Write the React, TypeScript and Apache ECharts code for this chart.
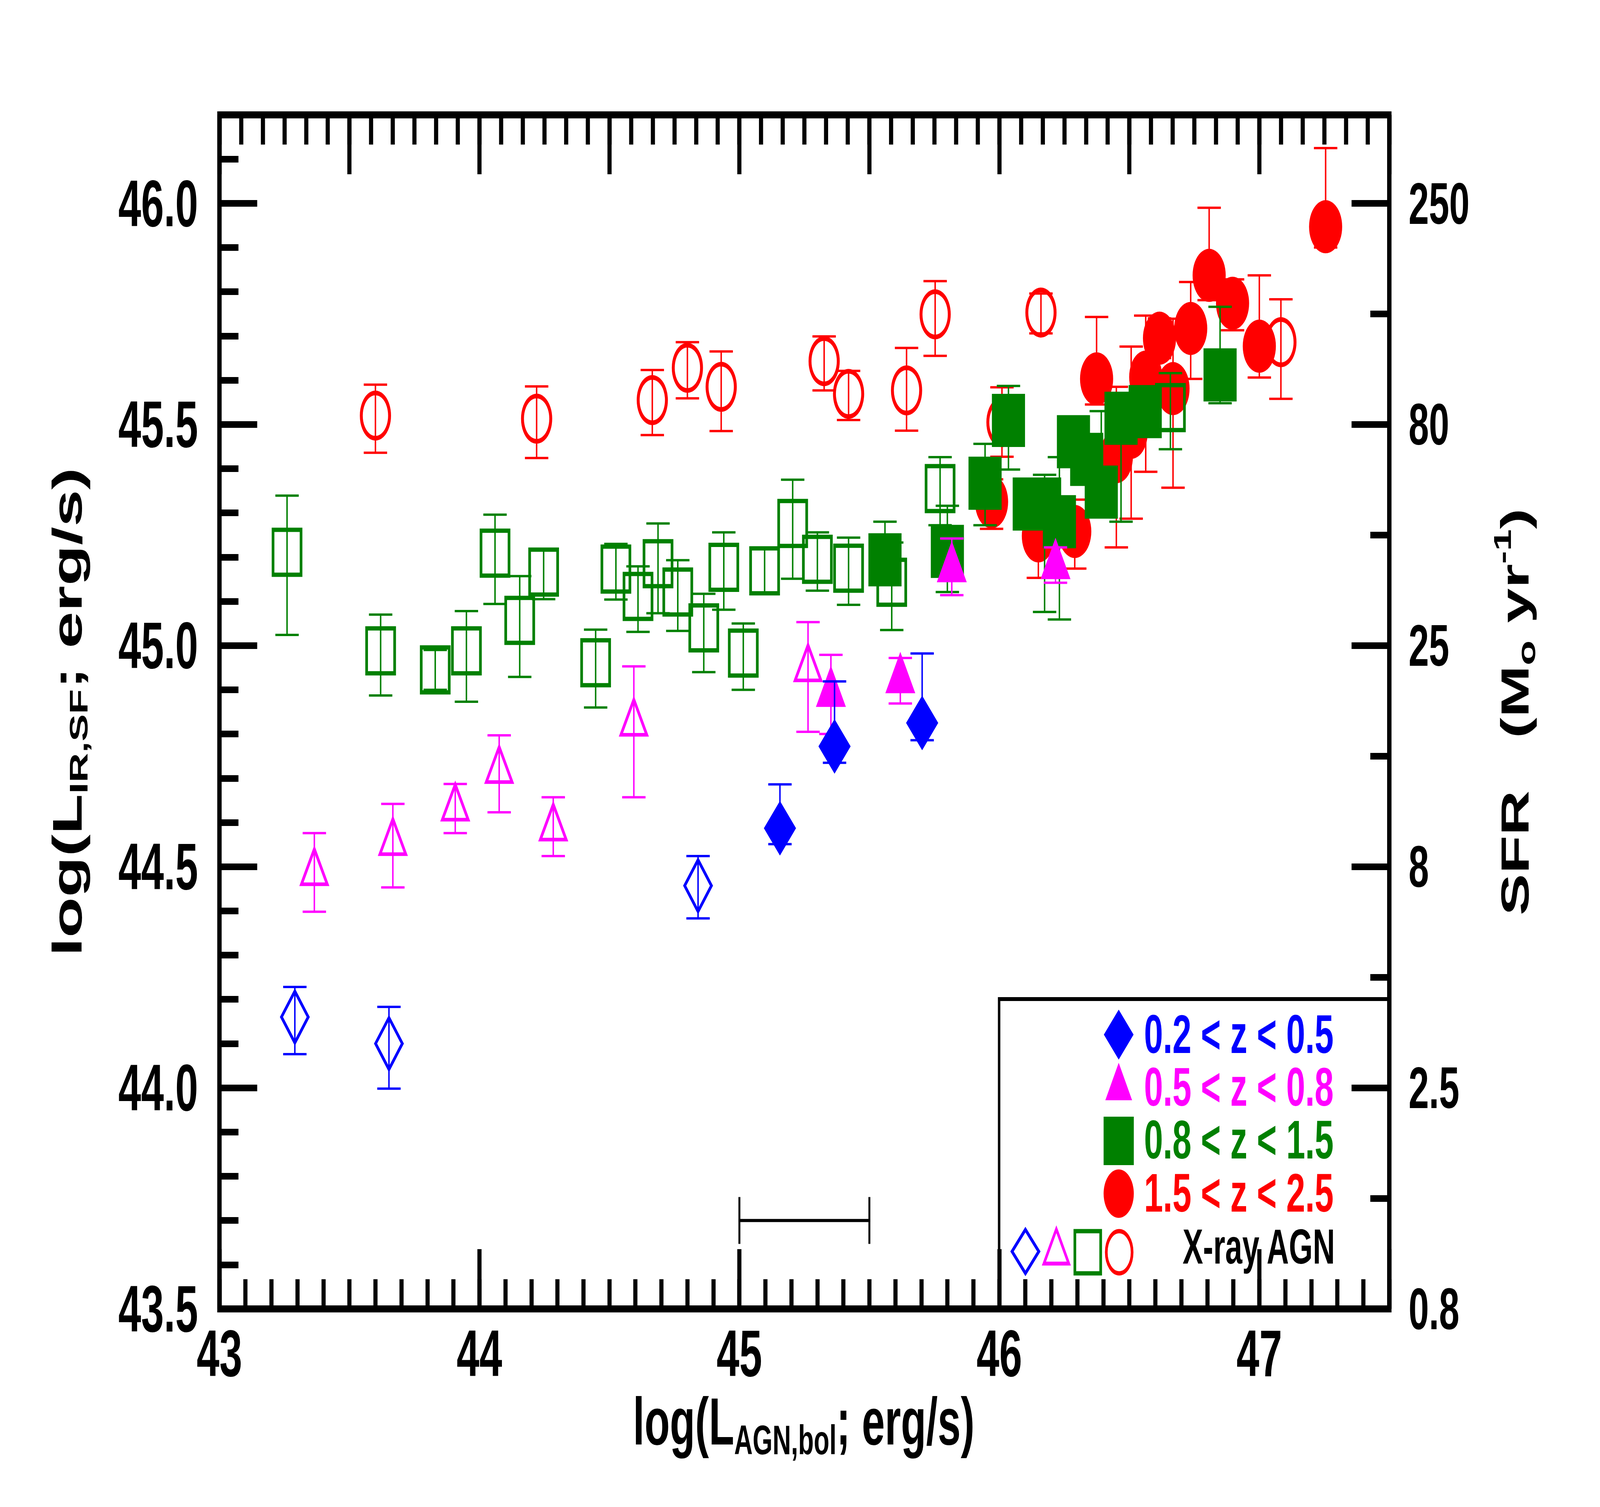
import React, { useEffect, useRef } from 'react';
import * as echarts from 'echarts';

const REF_W = 6569;
const REF_H = 3857;
const FONT = '"Liberation Sans", Arial, Helvetica, sans-serif';
const BLUE = '#0000ff';
const MAG = '#ff00ff';
const GREEN = '#008000';
const RED = '#ff0000';

// ---- data: [logLagn, logLir, errLow, errHigh] ----
const blueOpen = [
  [43.29, 44.16, 44.076, 44.228],
  [43.652, 44.1, 43.998, 44.183],
  [44.841, 44.457, 44.383, 44.524],
];
const blueFilled = [
  [45.156, 44.587, 44.551, 44.686],
  [45.366, 44.772, 44.735, 44.919],
  [45.703, 44.825, 44.786, 44.982],
];
const magOpen = [
  [43.365, 44.5, 44.398, 44.576],
  [43.667, 44.568, 44.453, 44.642],
  [43.907, 44.646, 44.576, 44.687],
  [44.076, 44.731, 44.623, 44.797],
  [44.284, 44.601, 44.524, 44.657],
  [44.594, 44.838, 44.657, 44.953],
  [45.264, 44.961, 44.805, 45.053],
];
const magFilled = [
  [45.352, 44.908, 44.8, 44.979],
  [45.619, 44.939, 44.869, 44.972],
  [45.817, 45.19, 45.114, 45.242],
  [46.216, 45.197, 45.142, 45.222],
];
const greenOpen = [
  [43.26, 45.211, 45.024, 45.339],
  [43.62, 44.988, 44.887, 45.07],
  [43.83, 44.945, 44.9, 44.99],
  [43.95, 44.988, 44.873, 45.078],
  [44.06, 45.209, 45.094, 45.296],
  [44.155, 45.057, 44.929, 45.157],
  [44.247, 45.166, 45.105, 45.218],
  [44.447, 44.961, 44.86, 45.036],
  [44.525, 45.173, 45.104, 45.23],
  [44.61, 45.111, 45.031, 45.179],
  [44.687, 45.185, 45.073, 45.276],
  [44.763, 45.121, 45.033, 45.193],
  [44.863, 45.04, 44.94, 45.117],
  [44.94, 45.177, 45.081, 45.256],
  [45.015, 44.983, 44.9, 45.05],
  [45.097, 45.169, 45.12, 45.22],
  [45.205, 45.276, 45.151, 45.375],
  [45.3, 45.195, 45.124, 45.256],
  [45.42, 45.175, 45.092, 45.244],
  [45.586, 45.143, 45.035, 45.233],
  [45.772, 45.355, 45.272, 45.426],
  [46.658, 45.538, 45.444, 45.616],
];
const greenFilled = [
  [45.56, 45.194, 45.15, 45.28],
  [45.8, 45.213, 45.121, 45.316],
  [45.945, 45.367, 45.272, 45.456],
  [46.035, 45.509, 45.398, 45.587],
  [46.115, 45.32, 45.28, 45.36],
  [46.174, 45.32, 45.076, 45.386],
  [46.231, 45.28, 45.059, 45.426],
  [46.285, 45.461, 45.42, 45.5],
  [46.336, 45.421, 45.38, 45.46],
  [46.392, 45.347, 45.3, 45.53],
  [46.468, 45.514, 45.28, 45.56],
  [46.561, 45.529, 45.49, 45.57],
  [46.849, 45.612, 45.548, 45.766],
];
const redOpen = [
  [43.6, 45.52, 45.436, 45.59],
  [44.22, 45.513, 45.424, 45.586],
  [44.665, 45.555, 45.476, 45.623],
  [44.8, 45.628, 45.559, 45.686],
  [44.93, 45.585, 45.485, 45.665],
  [45.326, 45.643, 45.577, 45.699],
  [45.42, 45.569, 45.51, 45.621],
  [45.643, 45.577, 45.486, 45.673],
  [45.753, 45.749, 45.655, 45.824],
  [46.01, 45.505, 45.427, 45.584],
  [46.16, 45.753, 45.706, 45.796],
  [47.083, 45.686, 45.558, 45.783],
];
const redFilled = [
  [45.97, 45.325, 45.264, 45.376],
  [46.15, 45.248, 45.153, 45.3],
  [46.29, 45.258, 45.174, 45.33],
  [46.374, 45.603, 45.545, 45.743],
  [46.45, 45.427, 45.222, 45.585],
  [46.507, 45.482, 45.287, 45.676],
  [46.563, 45.607, 45.393, 45.746],
  [46.616, 45.695, 45.65, 45.74],
  [46.668, 45.581, 45.357, 45.739],
  [46.736, 45.717, 45.603, 45.822],
  [46.807, 45.837, 45.781, 45.99],
  [46.897, 45.774, 45.713, 45.828],
  [47.0, 45.677, 45.606, 45.837],
  [47.255, 45.947, 45.9, 46.125],
];

// scale bar (x from, x to, y)
const scaleBar = [[45.0, 45.5, 43.7]];

// tick labels
const sfrLabels = ['0.8', '2.5', '8', '25', '80', '250'];
const legendLabels = ['0.2 < z < 0.5', '0.5 < z < 0.8', '0.8 < z < 1.5', '1.5 < z < 2.5'];
const legendColors = [BLUE, MAG, GREEN, RED];

// ---- layout (reference pixels) ----
const GL = 901;
const GT = 294;
const GW = 4803;
const GH = 3056;

function diamondPts(cx: number, cy: number, w: number, h: number) {
  return [
    [cx, cy - h / 2],
    [cx + w / 2, cy],
    [cx, cy + h / 2],
    [cx - w / 2, cy],
  ];
}
function trianglePts(cx: number, cy: number, w: number, h: number) {
  return [
    [cx, cy - h / 2],
    [cx + w / 2, cy + h / 2],
    [cx - w / 2, cy + h / 2],
  ];
}

function buildOption(): any {
  const errSeries = (name: string, pts: number[][], color: string, z: number) => ({
    type: 'custom',
    name,
    z,
    silent: true,
    clip: false,
    xAxisIndex: 0,
    yAxisIndex: 0,
    data: pts.map((p) => [p[0], p[2], p[3]]),
    encode: { x: 0, y: [1, 2] },
    renderItem: (params: any, api: any) => {
      const lo = api.coord([api.value(0), api.value(1)]);
      const hi = api.coord([api.value(0), api.value(2)]);
      const hw = 48;
      const st = { stroke: color, lineWidth: 6 };
      return {
        type: 'group',
        children: [
          { type: 'line', shape: { x1: lo[0], y1: lo[1], x2: hi[0], y2: hi[1] }, style: st },
          { type: 'line', shape: { x1: lo[0] - hw, y1: lo[1], x2: lo[0] + hw, y2: lo[1] }, style: st },
          { type: 'line', shape: { x1: hi[0] - hw, y1: hi[1], x2: hi[0] + hw, y2: hi[1] }, style: st },
        ],
      };
    },
  });

  const scatter = (
    name: string,
    pts: number[][],
    symbol: string,
    size: number[],
    color: string,
    filled: boolean,
    z: number,
    lw = 0
  ) => ({
    type: 'scatter',
    name,
    z,
    silent: true,
    xAxisIndex: 0,
    yAxisIndex: 0,
    data: pts.map((p) => [p[0], p[1]]),
    symbol,
    symbolSize: size,
    itemStyle: filled
      ? { color, opacity: 1 }
      : { color: 'rgba(0,0,0,0)', borderColor: color, borderWidth: lw, opacity: 1 },
    emphasis: { disabled: true },
  });

  const tickStyle = { color: '#000', width: 17 };
  const noLine = { show: false, onZero: false };

  const tickAxis = (position: string, max: number, len: number) => ({
    type: 'value',
    position,
    min: 0,
    max,
    interval: 1,
    silent: true,
    splitLine: { show: false },
    axisLine: noLine,
    axisLabel: { show: false },
    axisTick: { show: true, inside: true, length: len, lineStyle: tickStyle },
  });

  const labelFont = { fontWeight: 'bold', fontFamily: FONT, color: '#000' };

  // legend (drawn as graphics)
  const legX = 4593;
  const rowY = [2648, 2768, 2920, 3055];
  const textY = [2646, 2781, 2916, 3052];
  const g: any[] = [];
  g.push({
    type: 'polyline', z: 100, silent: true,
    shape: { points: [[4102, GT + GH], [4102, 2557], [GL + GW, 2557]] },
    style: { stroke: '#000', lineWidth: 10, fill: 'none' },
  });
  g.push({
    type: 'polygon', z: 100, silent: true,
    shape: { points: diamondPts(legX, rowY[0], 122, 128) },
    style: { fill: BLUE },
  });
  g.push({
    type: 'polygon', z: 100, silent: true,
    shape: { points: trianglePts(legX, rowY[1], 110, 96) },
    style: { fill: MAG },
  });
  g.push({
    type: 'rect', z: 100, silent: true,
    shape: { x: legX - 62, y: rowY[2] - 62, width: 124, height: 124 },
    style: { fill: GREEN },
  });
  g.push({
    type: 'circle', z: 100, silent: true,
    shape: { cx: legX, cy: rowY[3], r: 62 },
    style: { fill: RED },
  });
  legendLabels.forEach((t, i) => {
    g.push({
      type: 'text', z: 100, silent: true,
      x: 4697, y: textY[i],
      style: {
        text: t, fill: legendColors[i],
        font: `bold 140px ${FONT}`,
        textAlign: 'left', align: 'left', textVerticalAlign: 'middle', verticalAlign: 'middle',
      },
    });
  });
  g.push({
    type: 'polygon', z: 100, silent: true,
    shape: { points: diamondPts(4210, 3203, 110, 112) },
    style: { fill: 'none', stroke: BLUE, lineWidth: 10 },
  });
  g.push({
    type: 'polygon', z: 100, silent: true,
    shape: { points: trianglePts(4337, 3190, 102, 88) },
    style: { fill: 'none', stroke: MAG, lineWidth: 10 },
  });
  g.push({
    type: 'rect', z: 100, silent: true,
    shape: { x: 4466 - 53, y: 3205 - 54, width: 106, height: 108 },
    style: { fill: 'none', stroke: GREEN, lineWidth: 11 },
  });
  g.push({
    type: 'ellipse', z: 100, silent: true,
    shape: { cx: 4595, cy: 3205, rx: 53, ry: 54 },
    style: { fill: 'none', stroke: RED, lineWidth: 11 },
  });
  g.push({
    type: 'text', z: 100, silent: true,
    x: 5168, y: 3190,
    style: {
      text: 'X-ray AGN', fill: '#000',
      font: `bold 126px ${FONT}`,
      textAlign: 'center', align: 'center', textVerticalAlign: 'middle', verticalAlign: 'middle',
    },
  });

  const rich = {
    m: { fontSize: 170, fontWeight: 'bold', fontFamily: FONT, lineHeight: 200, verticalAlign: 'middle', color: '#000' },
    s: { fontSize: 105, fontWeight: 'bold', fontFamily: FONT, lineHeight: 60, verticalAlign: 'bottom', color: '#000' },
    p: { fontSize: 100, fontWeight: 'bold', fontFamily: FONT, lineHeight: 100, verticalAlign: 'top', color: '#000' },
    r: { fontSize: 160, fontWeight: 'bold', fontFamily: FONT, lineHeight: 200, verticalAlign: 'middle', color: '#000' },
  };
  const centered = { textAlign: 'center', align: 'center', textVerticalAlign: 'middle', verticalAlign: 'middle' };

  const titles = [
    {
      type: 'text', z: 100, silent: true,
      x: 3300, y: 3638,
      style: { text: '{m|log(L}{s|AGN,bol}{m|; erg/s)}', rich, ...centered },
    },
    {
      type: 'text', z: 100, silent: true,
      x: 276, y: 1822, rotation: Math.PI / 2,
      style: { text: '{m|log(L}{s|IR,SF}{m|; erg/s)}', rich, ...centered },
    },
    {
      type: 'text', z: 100, silent: true,
      x: 6219, y: 1822, rotation: Math.PI / 2,
      style: { text: '{r|SFR   (M}{s|o}{r| yr}{p|-1}{r|)}', rich, ...centered },
    },
  ];

  return {
    animation: false,
    backgroundColor: '#fff',
    grid: { left: GL, top: GT, width: GW, height: GH, containLabel: false },
    xAxis: [
      {
        type: 'value', position: 'bottom', min: 43, max: 47.5, interval: 1, silent: true,
        splitLine: { show: false },
        axisLine: noLine,
        axisTick: { show: true, inside: true, length: 153, lineStyle: tickStyle },
        axisLabel: {
          show: true, margin: 30, fontSize: 168, ...labelFont,
          formatter: (v: number) => (v > 47.2 ? '' : String(Math.round(v))),
        },
      },
      tickAxis('bottom', 45, 76),
      tickAxis('top', 9, 152),
      tickAxis('top', 54, 76),
    ],
    yAxis: [
      {
        type: 'value', position: 'left', min: 43.5, max: 46.2, interval: 0.5, silent: true,
        splitLine: { show: false },
        axisLine: noLine,
        axisTick: { show: true, inside: true, length: 155, lineStyle: tickStyle },
        axisLabel: {
          show: true, margin: 88, fontSize: 168, ...labelFont,
          formatter: (v: number) => (v > 46.1 ? '' : v.toFixed(1)),
        },
      },
      tickAxis('left', 27, 78),
      {
        type: 'value', position: 'right', min: 0, max: 10.8, interval: 2, silent: true,
        splitLine: { show: false },
        axisLine: noLine,
        axisTick: { show: true, inside: true, length: 155, lineStyle: tickStyle },
        axisLabel: {
          show: true, margin: 79, fontSize: 150, ...labelFont,
          formatter: (v: number) => {
            const i = v / 2;
            return Number.isInteger(i) && i < sfrLabels.length ? sfrLabels[i] : '';
          },
        },
      },
      tickAxis('right', 10.8, 78),
    ],
    series: [
      errSeries('err15', [...redOpen, ...redFilled], RED, 2),
      scatter('X-ray 1.5<z<2.5', redOpen, 'circle', [116, 116], RED, false, 3, 12),
      scatter('1.5 < z < 2.5', redFilled, 'circle', [136, 136], RED, true, 3),
      errSeries('err08', [...greenOpen, ...greenFilled], GREEN, 4),
      scatter('X-ray 0.8<z<1.5', greenOpen, 'rect', [115, 115], GREEN, false, 5, 11),
      scatter('0.8 < z < 1.5', greenFilled, 'rect', [136, 136], GREEN, true, 5),
      errSeries('err05', [...magOpen, ...magFilled], MAG, 6),
      scatter('X-ray 0.5<z<0.8', magOpen, 'triangle', [106, 90], MAG, false, 7, 10),
      scatter('0.5 < z < 0.8', magFilled, 'triangle', [123, 106], MAG, true, 7),
      errSeries('err02', [...blueOpen, ...blueFilled], BLUE, 8),
      scatter('X-ray 0.2<z<0.5', blueOpen, 'diamond', [110, 132], BLUE, false, 9, 10),
      scatter('0.2 < z < 0.5', blueFilled, 'diamond', [132, 140], BLUE, true, 9),
      {
        type: 'custom',
        name: 'scalebar',
        z: 2,
        silent: true,
        clip: false,
        xAxisIndex: 0,
        yAxisIndex: 0,
        data: scaleBar,
        encode: { x: [0, 1], y: 2 },
        renderItem: (params: any, api: any) => {
          const a = api.coord([api.value(0), api.value(2)]);
          const b = api.coord([api.value(1), api.value(2)]);
          const st = { stroke: '#000', lineWidth: 8 };
          return {
            type: 'group',
            children: [
              { type: 'line', shape: { x1: a[0], y1: a[1], x2: b[0], y2: b[1] }, style: st },
              { type: 'line', shape: { x1: a[0], y1: a[1] - 60, x2: a[0], y2: a[1] + 60 }, style: st },
              { type: 'line', shape: { x1: b[0], y1: b[1] - 60, x2: b[0], y2: b[1] + 60 }, style: st },
            ],
          };
        },
      },
    ],
    graphic: [
      {
        type: 'rect', z: 100, silent: true,
        shape: { x: GL, y: GT, width: GW, height: GH },
        style: { fill: 'none', stroke: '#000', lineWidth: 18 },
      },
      ...g,
      ...titles,
    ],
  };
}

export default function App() {
  const ref = useRef<HTMLDivElement>(null);
  const sx = (typeof window !== 'undefined' && window.innerWidth ? window.innerWidth : REF_W) / REF_W;
  const sy = (typeof window !== 'undefined' && window.innerHeight ? window.innerHeight : REF_H) / REF_H;
  useEffect(() => {
    const el = ref.current;
    if (!el) return;
    const chart = echarts.init(el, null, { renderer: 'svg', width: REF_W, height: REF_H });
    chart.setOption(buildOption());
    return () => {
      chart.dispose();
    };
  }, []);
  return (
    <div
      ref={ref}
      style={{
        position: 'fixed',
        left: 0,
        top: 0,
        width: REF_W,
        height: REF_H,
        background: '#fff',
        transform: `scale(${sx}, ${sy})`,
        transformOrigin: '0 0',
      }}
    />
  );
}
